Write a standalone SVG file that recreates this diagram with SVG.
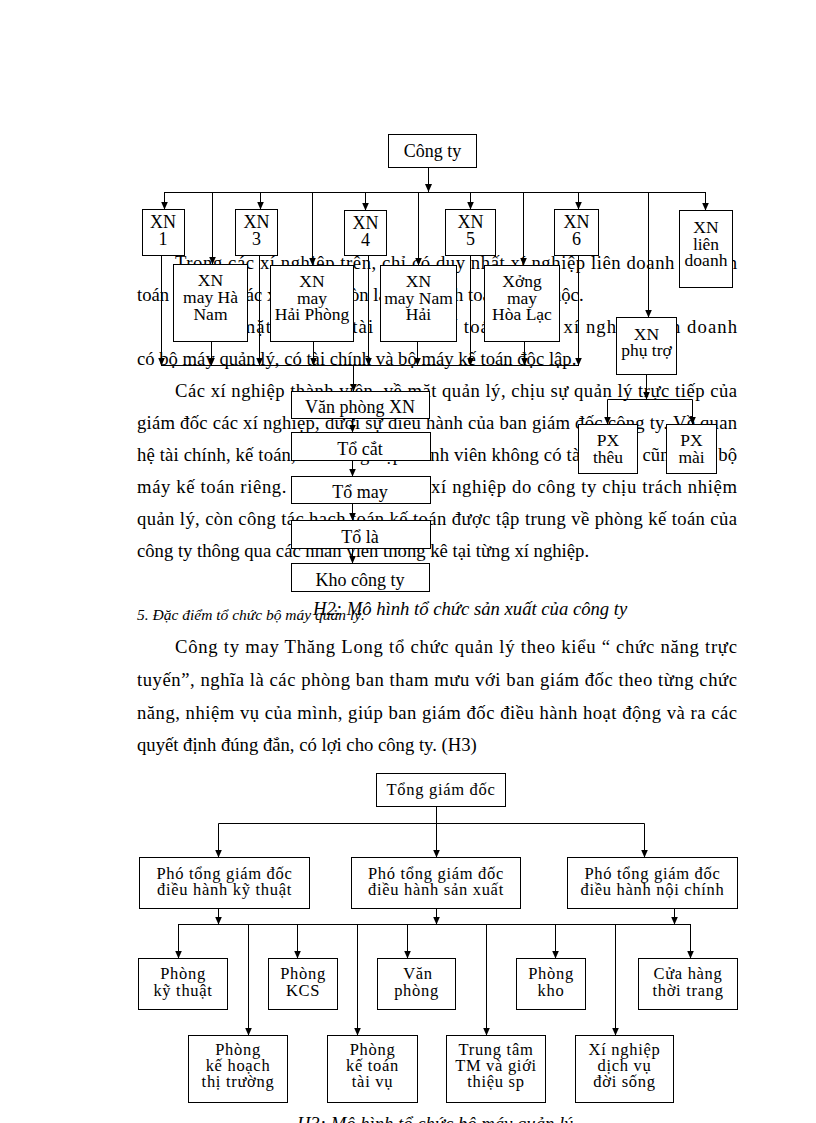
<svg xmlns="http://www.w3.org/2000/svg" width="816" height="1123" viewBox="0 0 816 1123">
<style>
.b{font-family:"Liberation Serif","Times New Roman",serif;font-size:18.67px;fill:#000}
.i{font-family:"Liberation Serif","Times New Roman",serif;font-style:italic;fill:#000}
.n{font-family:"Liberation Serif","Times New Roman",serif;font-size:18px;fill:#000;text-anchor:middle}
.m{font-family:"Liberation Serif","Times New Roman",serif;font-size:17.5px;fill:#000;text-anchor:middle}
.s{font-family:"Liberation Serif","Times New Roman",serif;font-size:16.5px;letter-spacing:0.7px;fill:#000;text-anchor:middle}
.box{fill:#fff;stroke:#000;stroke-width:1}
.c path{fill:none;stroke:#000;stroke-width:1}
.c path.a{marker-end:url(#ar)}
</style>
<defs>
<marker id="ar" viewBox="0 0 8 8" refX="8" refY="4" markerWidth="8" markerHeight="8" orient="auto" markerUnits="userSpaceOnUse">
<path d="M0,0.5 L8,4 L0,7.5 z" fill="#000"/>
</marker>
</defs>
<rect width="816" height="1123" fill="#fff"/>

<g id="body-text">
<text class="b" x="175" y="269" textLength="562" lengthAdjust="spacing">Trong các xí nghiệp trên, chỉ có duy nhất xí nghiệp liên doanh là hạch</text>
<text class="b" x="137" y="301">toán độc lập, các xí nghiệp còn lại đều hạch toán phụ thuộc.</text>
<text class="b" x="175" y="333" textLength="562" lengthAdjust="spacing">Còn về mặt quản lý, tài chính, kế toán chỉ có xí nghiệp liên doanh</text>
<text class="b" x="137" y="365">có bộ máy quản lý, có tài chính và bộ máy kế toán độc lập.</text>
<text class="b" x="175" y="397" textLength="562" lengthAdjust="spacing">Các xí nghiệp thành viên, về mặt quản lý, chịu sự quản lý trực tiếp của</text>
<text class="b" x="137" y="429" textLength="600" lengthAdjust="spacing">giám đốc các xí nghiệp, dưới sự điều hành của ban giám đốc công ty. Về quan</text>
<text class="b" x="137" y="461" textLength="600" lengthAdjust="spacing">hệ tài chính, kế toán, các xí nghiệp thành viên không có tài chính, cũng như bộ</text>
<text class="b" x="137" y="493" textLength="600" lengthAdjust="spacing">máy kế toán riêng. Việc quản lý các xí nghiệp do công ty chịu trách nhiệm</text>
<text class="b" x="137" y="525" textLength="600" lengthAdjust="spacing">quản lý, còn công tác hạch toán kế toán được tập trung về phòng kế toán của</text>
<text class="b" x="137" y="557">công ty thông qua các nhân viên thống kê tại từng xí nghiệp.</text>
<text class="i" x="137" y="620" font-size="15.5">5. Đặc điểm tổ chức bộ máy quản lý.</text>
<text class="i" x="313" y="615" font-size="18.67">H2: Mô hình tổ chức sản xuất của công ty</text>
<text class="b" x="175" y="653" textLength="562" lengthAdjust="spacing">Công ty may Thăng Long tổ chức quản lý theo kiểu “ chức năng trực</text>
<text class="b" x="137" y="686" textLength="600" lengthAdjust="spacing">tuyến”, nghĩa là các phòng ban tham mưu với ban giám đốc theo từng chức</text>
<text class="b" x="137" y="719" textLength="600" lengthAdjust="spacing">năng, nhiệm vụ của mình, giúp ban giám đốc điều hành hoạt động và ra các</text>
<text class="b" x="137" y="751">quyết định đúng đắn, có lợi cho công ty. (H3)</text>
<text class="i" x="297" y="1130" font-size="18.67">H3: Mô hình tổ chức bộ máy quản lý</text>
</g>

<g id="h2-nodes">
<g id="cong-ty"><rect class="box" x="388.5" y="134.5" width="88" height="33"/><text class="n" x="432.5" y="157">Công ty</text></g>
<g id="xn1"><rect class="box" x="142.5" y="209.5" width="42" height="46"/><text class="n" x="163" y="228">XN</text><text class="n" x="163" y="245">1</text></g>
<g id="xn3"><rect class="box" x="235.5" y="209.5" width="42" height="46"/><text class="n" x="256.5" y="228">XN</text><text class="n" x="256.5" y="245">3</text></g>
<g id="xn4"><rect class="box" x="344.5" y="210.5" width="42" height="45"/><text class="n" x="365.5" y="229">XN</text><text class="n" x="365.5" y="246">4</text></g>
<g id="xn5"><rect class="box" x="445.5" y="209.5" width="50" height="46"/><text class="n" x="470.5" y="228">XN</text><text class="n" x="470.5" y="245">5</text></g>
<g id="xn6"><rect class="box" x="554.5" y="209.5" width="44" height="46"/><text class="n" x="576.5" y="228">XN</text><text class="n" x="576.5" y="245">6</text></g>
<g id="xn-lien-doanh"><rect class="box" x="679.5" y="210.5" width="53" height="77"/><text class="m" x="706" y="233">XN</text><text class="m" x="706" y="249.5">liên</text><text class="m" x="706" y="266">doanh</text></g>
<g id="xn-ha-nam"><rect class="box" x="173.5" y="264.5" width="74" height="77"/><text class="m" x="210.5" y="286">XN</text><text class="m" x="210.5" y="303">may Hà</text><text class="m" x="210.5" y="320">Nam</text></g>
<g id="xn-hai-phong"><rect class="box" x="270.5" y="265.5" width="83" height="76"/><text class="m" x="312" y="287">XN</text><text class="m" x="312" y="304">may</text><text class="m" x="312" y="320">Hải Phòng</text></g>
<g id="xn-nam-hai"><rect class="box" x="380.5" y="265.5" width="76" height="76"/><text class="m" x="418.5" y="287">XN</text><text class="m" x="418.5" y="304">may Nam</text><text class="m" x="418.5" y="320">Hải</text></g>
<g id="xuong-hoa-lac"><rect class="box" x="484.5" y="265.5" width="75" height="76"/><text class="m" x="522" y="287">Xởng</text><text class="m" x="522" y="304">may</text><text class="m" x="522" y="320">Hòa Lạc</text></g>
<g id="xn-phu-tro"><rect class="box" x="616.5" y="317.5" width="60" height="57"/><text class="m" x="646.5" y="339.5">XN</text><text class="m" x="646.5" y="356">phụ trợ</text></g>
<g id="px-theu"><rect class="box" x="578.5" y="424.5" width="59" height="49"/><text class="m" x="608" y="446">PX</text><text class="m" x="608" y="463">thêu</text></g>
<g id="px-mai"><rect class="box" x="666.5" y="424.5" width="50" height="49"/><text class="m" x="691.5" y="446">PX</text><text class="m" x="691.5" y="463">mài</text></g>
<g id="van-phong-xn"><rect class="box" x="291.5" y="391.5" width="138" height="27"/><text class="n" x="360" y="413">Văn phòng XN</text></g>
<g id="to-cat"><rect class="box" x="291.5" y="432.5" width="139" height="28"/><text class="n" x="360" y="454.5">Tổ cắt</text></g>
<g id="to-may"><rect class="box" x="291.5" y="476.5" width="139" height="27"/><text class="n" x="360" y="498">Tổ may</text></g>
<g id="to-la"><rect class="box" x="291.5" y="520.5" width="139" height="28"/><text class="n" x="360" y="543">Tổ là</text></g>
<g id="kho-cong-ty"><rect class="box" x="291.5" y="563.5" width="138" height="28"/><text class="n" x="360" y="585.5">Kho công ty</text></g>
</g>

<g id="h2-connectors" class="c">
<path class="a" d="M428.5,167.5 V192"/>
<path d="M164,192.5 H706"/>
<path class="a" d="M164.5,192.5 V209.5"/>
<path class="a" d="M260.5,192.5 V209.5"/>
<path class="a" d="M365.5,192.5 V210.5"/>
<path class="a" d="M470.5,192.5 V209.5"/>
<path class="a" d="M578.5,192.5 V209.5"/>
<path class="a" d="M705.5,192.5 V210.5"/>
<path class="a" d="M212.5,192.5 V264.5"/>
<path class="a" d="M312.5,192.5 V265.5"/>
<path class="a" d="M418.5,192.5 V265.5"/>
<path class="a" d="M523.5,192.5 V265.5"/>
<path class="a" d="M648.5,192.5 V317.5"/>
<path class="a" d="M161.5,255.5 V365.5"/>
<path class="a" d="M211.5,341.5 V365.5"/>
<path class="a" d="M259.5,255.5 V365.5"/>
<path class="a" d="M313.5,341.5 V365.5"/>
<path class="a" d="M368.5,255.5 V365.5"/>
<path class="a" d="M417.5,341.5 V365.5"/>
<path class="a" d="M470.5,255.5 V365.5"/>
<path class="a" d="M524.5,341.5 V365.5"/>
<path class="a" d="M578.5,255.5 V365.5"/>
<path d="M161,365.5 H579"/>
<path class="a" d="M353.5,365.5 V391.5"/>
<path class="a" d="M352.5,418.5 V432.5"/>
<path class="a" d="M352.5,460.5 V476.5"/>
<path class="a" d="M352.5,503.5 V520.5"/>
<path class="a" d="M352.5,548.5 V563.5"/>
<path class="a" d="M646.5,374.5 V399.5"/>
<path d="M607.5,399.5 H692.5"/>
<path class="a" d="M607.5,399.5 V424.5"/>
<path class="a" d="M692.5,399.5 V424.5"/>
</g>

<g id="h3-nodes">
<g id="tong-giam-doc"><rect class="box" x="376.5" y="773.5" width="129" height="33"/><text class="s" x="441" y="795">Tổng giám đốc</text></g>
<g id="pgd-ky-thuat"><rect class="box" x="139.5" y="857.5" width="170" height="51"/><text class="s" x="224.5" y="879">Phó tổng giám đốc</text><text class="s" x="224.5" y="895">điều hành kỹ thuật</text></g>
<g id="pgd-san-xuat"><rect class="box" x="351.5" y="857.5" width="169" height="51"/><text class="s" x="436" y="879">Phó tổng giám đốc</text><text class="s" x="436" y="895">điều hành sản xuất</text></g>
<g id="pgd-noi-chinh"><rect class="box" x="567.5" y="857.5" width="170" height="51"/><text class="s" x="652.5" y="879">Phó tổng giám đốc</text><text class="s" x="652.5" y="895">điều hành nội chính</text></g>
<g id="phong-ky-thuat"><rect class="box" x="138.5" y="958.5" width="89" height="51"/><text class="s" x="183" y="979">Phòng</text><text class="s" x="183" y="996">kỹ thuật</text></g>
<g id="phong-kcs"><rect class="box" x="268.5" y="958.5" width="69" height="51"/><text class="s" x="303" y="979">Phòng</text><text class="s" x="303" y="996">KCS</text></g>
<g id="van-phong"><rect class="box" x="377.5" y="958.5" width="78" height="51"/><text class="s" x="418" y="979">Văn</text><text class="s" x="416.5" y="996">phòng</text></g>
<g id="phong-kho"><rect class="box" x="516.5" y="958.5" width="69" height="51"/><text class="s" x="551" y="979">Phòng</text><text class="s" x="551" y="996">kho</text></g>
<g id="cua-hang"><rect class="box" x="638.5" y="958.5" width="99" height="51"/><text class="s" x="688" y="979">Cửa hàng</text><text class="s" x="688" y="996">thời trang</text></g>
<g id="phong-ke-hoach"><rect class="box" x="188.5" y="1035.5" width="99" height="67"/><text class="s" x="238" y="1055">Phòng</text><text class="s" x="238" y="1071">kế hoạch</text><text class="s" x="238" y="1087">thị trường</text></g>
<g id="phong-ke-toan"><rect class="box" x="327.5" y="1035.5" width="90" height="67"/><text class="s" x="372.5" y="1055">Phòng</text><text class="s" x="372.5" y="1071">kế toán</text><text class="s" x="372.5" y="1087">tài vụ</text></g>
<g id="trung-tam"><rect class="box" x="446.5" y="1035.5" width="99" height="67"/><text class="s" x="496" y="1055">Trung tâm</text><text class="s" x="496" y="1071">TM và giới</text><text class="s" x="496" y="1087">thiệu sp</text></g>
<g id="xi-nghiep-dv"><rect class="box" x="575.5" y="1035.5" width="98" height="67"/><text class="s" x="624.5" y="1055">Xí nghiệp</text><text class="s" x="624.5" y="1071">dịch vụ</text><text class="s" x="624.5" y="1087">đời sống</text></g>
</g>

<g id="h3-connectors" class="c">
<path class="a" d="M436.5,806.5 V857.5"/>
<path d="M218.5,823.5 H644.5"/>
<path class="a" d="M218.5,823.5 V857.5"/>
<path class="a" d="M644.5,823.5 V857.5"/>
<path class="a" d="M218.5,908.5 V924.5"/>
<path class="a" d="M436.5,908.5 V924.5"/>
<path class="a" d="M674.5,908.5 V924.5"/>
<path d="M178,924.5 H691"/>
<path class="a" d="M178.5,924.5 V958.5"/>
<path class="a" d="M297.5,924.5 V958.5"/>
<path class="a" d="M407.5,924.5 V958.5"/>
<path class="a" d="M555.5,924.5 V958.5"/>
<path class="a" d="M690.5,924.5 V958.5"/>
<path class="a" d="M248.5,924.5 V1035.5"/>
<path class="a" d="M357.5,924.5 V1035.5"/>
<path class="a" d="M486.5,924.5 V1035.5"/>
<path class="a" d="M615.5,924.5 V1035.5"/>
</g>
</svg>
